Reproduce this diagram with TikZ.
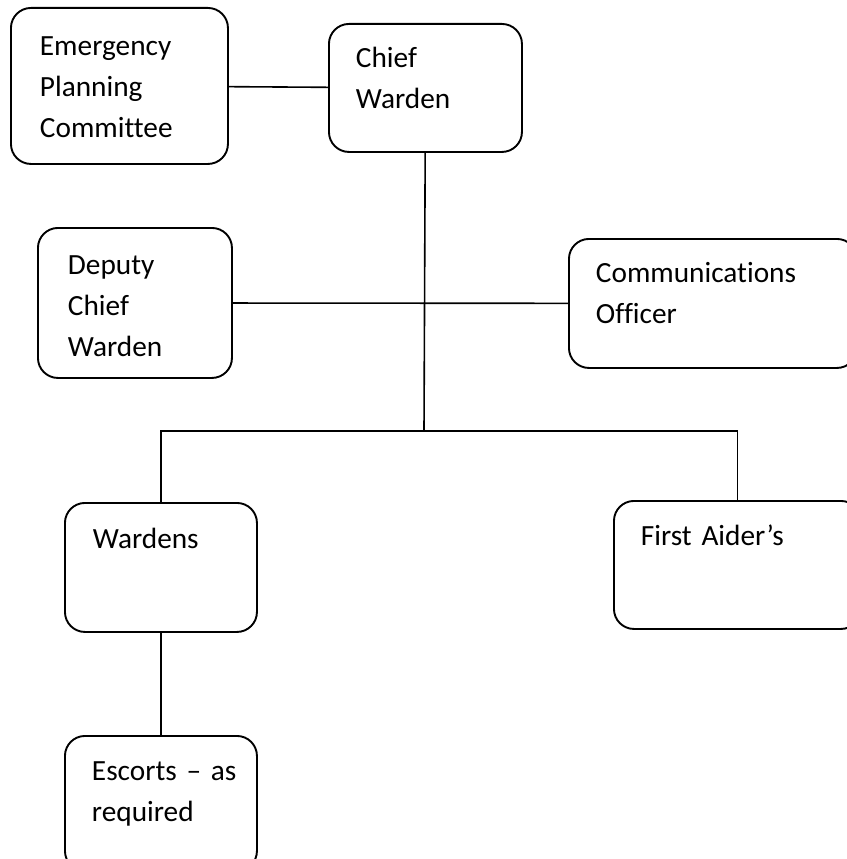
\documentclass[tikz,border=0pt]{standalone}
\usepackage{fontspec}
\setmainfont{Carlito}[Ligatures=NoCommon]
\usepackage{tikz}
\tikzstyle{role} = [rectangle, rounded corners=20pt, draw=black, line width=1.9pt, anchor=north west, align=left, inner ysep=0pt, font=\fontsize{29.3}{41}\selectfont]
\tikzstyle{edge} = [line width=1.6pt]

\begin{document}
\begin{tikzpicture}[x=1pt, y=-1pt]
\useasboundingbox (0,0) rectangle (846,859);

\node (0) [role, inner xsep=27pt, text width=139pt, text height=44pt, text depth=84pt] at (328,23) {Chief\\Warden};
\node (1) [role, inner xsep=29pt, text width=159pt, text height=48pt, text depth=108pt] at (10,7) {Emergency\\Planning\\Committee};
\node (2) [role, inner xsep=30pt, text width=134pt, text height=47pt, text depth=103pt] at (37,227) {Deputy\\Chief\\Warden};
\node (3) [role, inner xsep=27pt, text width=234pt, text height=44pt, text depth=85pt] at (568,238) {Communications\\Officer};
\node (4) [role, inner xsep=28pt, text width=136pt, text height=46pt, text depth=83pt] at (64,502) {Wardens};
\node (5) [role, inner xsep=27pt, text width=193pt, text height=45pt, text depth=83pt] at (613,500) {First Aider’s};
\node (6) [role, inner xsep=27pt, text width=138pt, text height=45pt, text depth=90pt] at (64,735) {\mbox{Escorts – as}\\required};
\coordinate (7) at (424,431);

\draw [edge] (1) -- (0);
\draw [edge] (0) -- (7);
\draw [edge] (2) -- (3);
\draw [edge] (7) -| (4);
\draw [edge] (7) -| (5);
\draw [edge] (4) -- (6);

\end{tikzpicture}
\end{document}
